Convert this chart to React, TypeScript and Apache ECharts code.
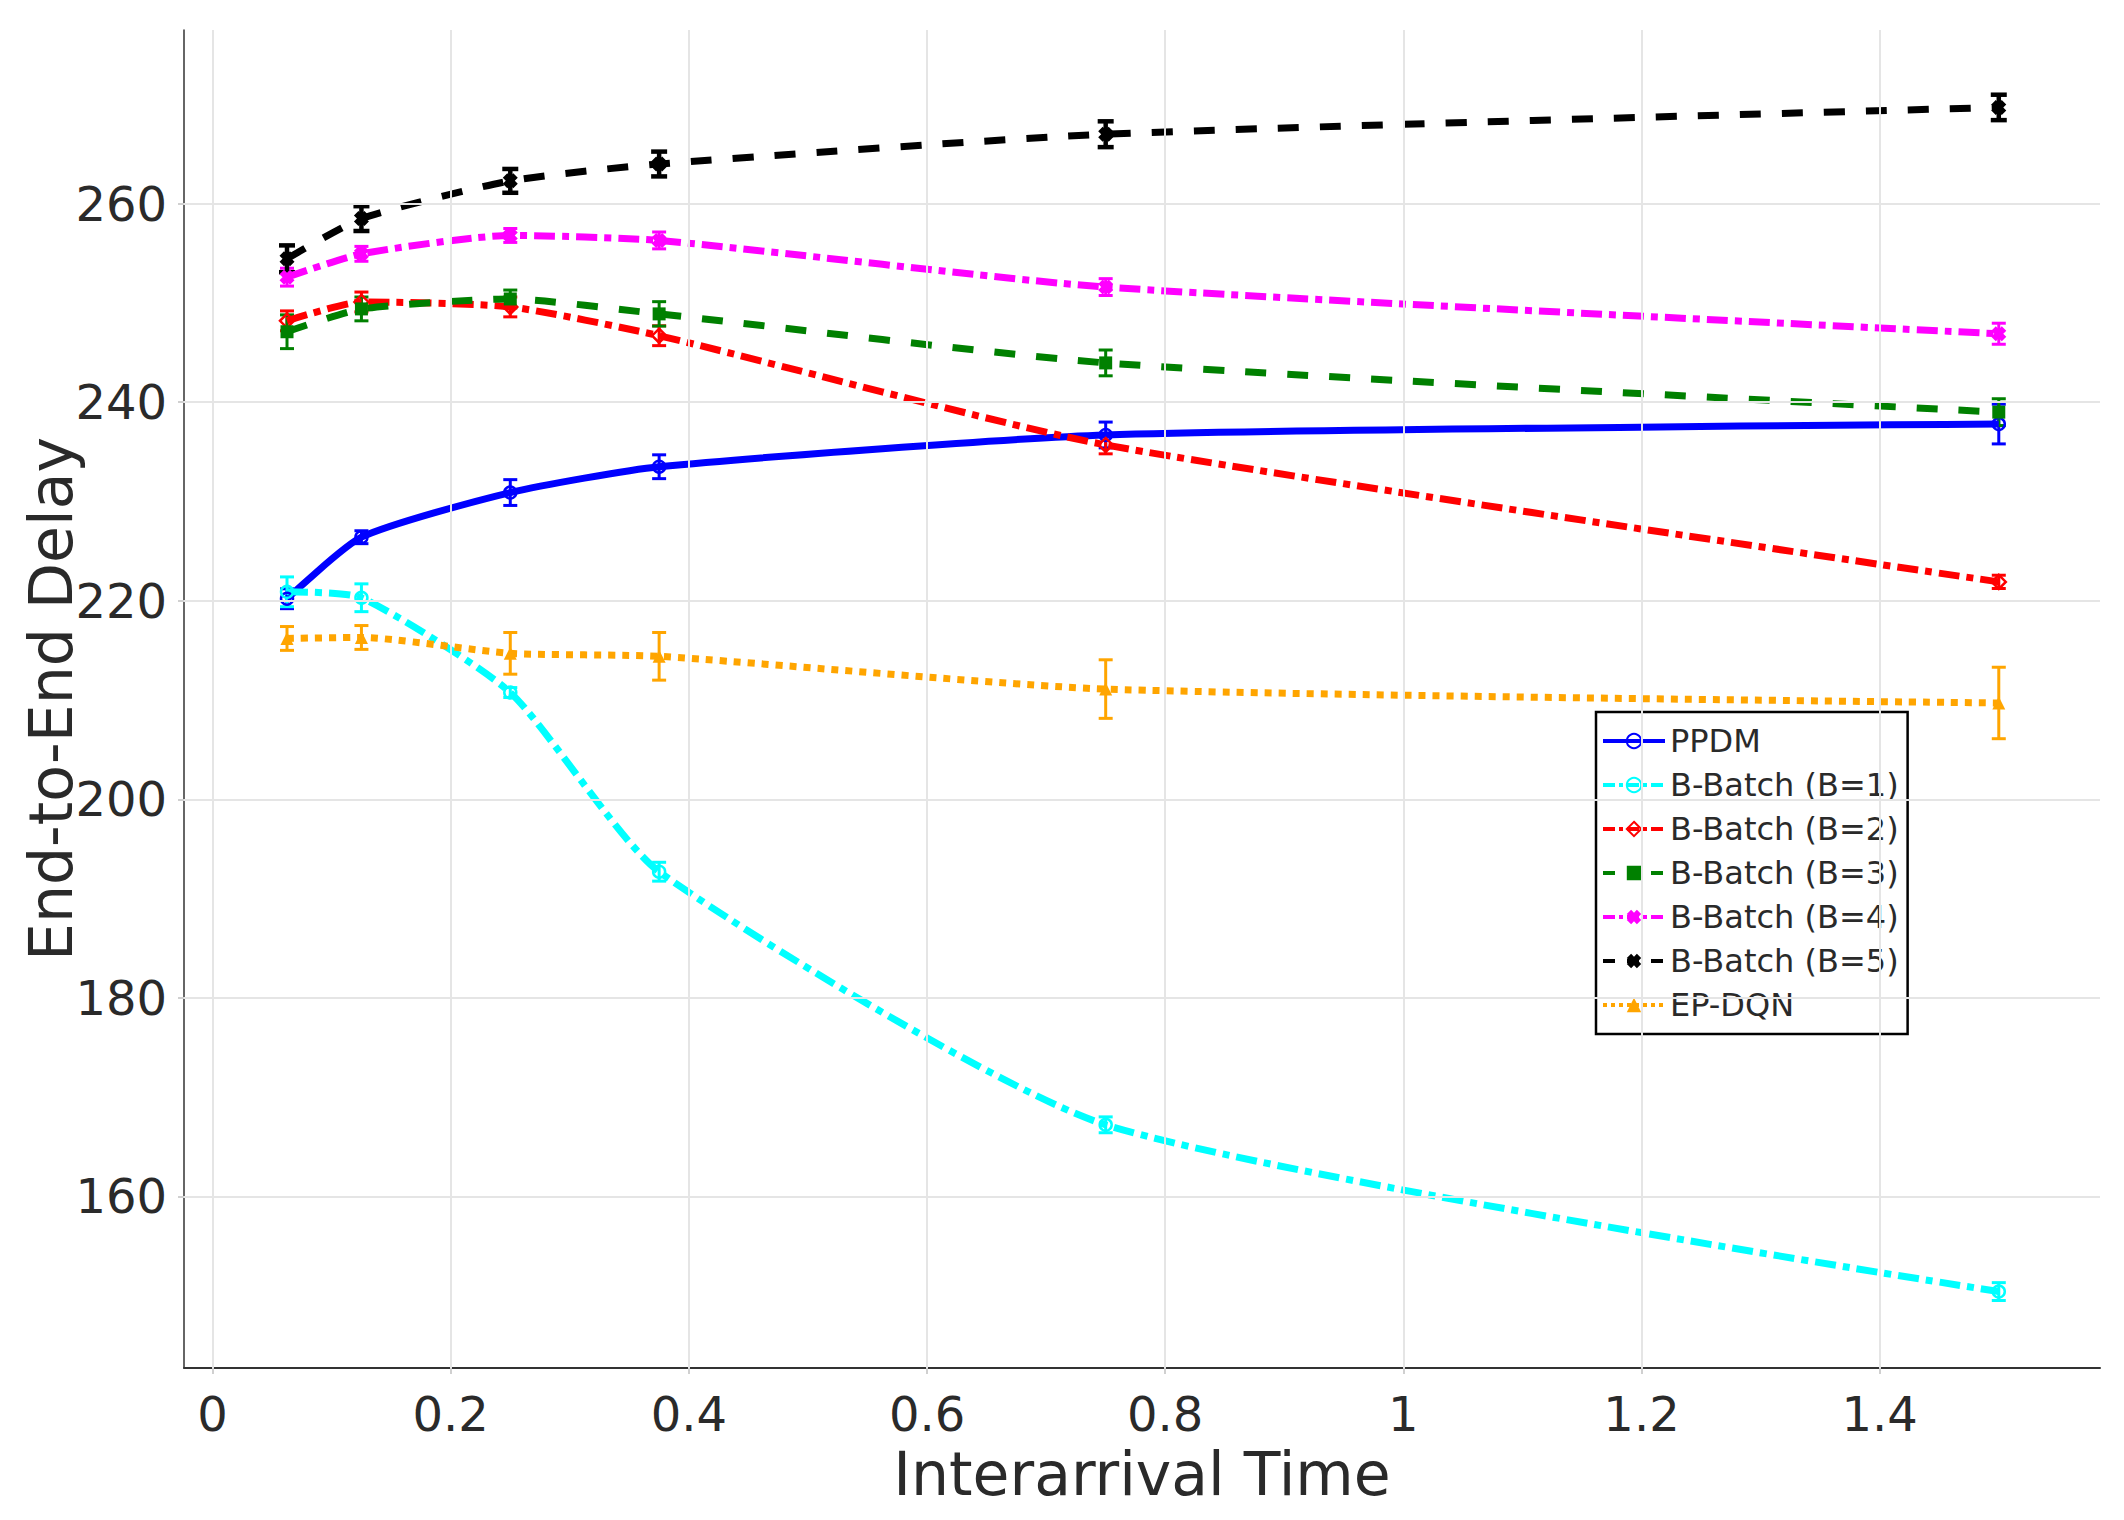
import React, { useEffect, useRef } from 'react';
import * as echarts from 'echarts';

const xValues = [0.0625, 0.125, 0.25, 0.375, 0.75, 1.5];
const xTicks = [0, 0.2, 0.4, 0.6, 0.8, 1, 1.2, 1.4];
const yTicks = [160, 180, 200, 220, 240, 260];

const seriesNames = [
  'PPDM',
  'B-Batch (B=1)',
  'B-Batch (B=2)',
  'B-Batch (B=3)',
  'B-Batch (B=4)',
  'B-Batch (B=5)',
  'EP-DQN',
];

const ppdm = [220.2, 226.4, 230.9, 233.5, 236.7, 237.8];
const ppdmErr = [1.0, 0.65, 1.3, 1.2, 1.3, 2.0];
const batch1 = [220.9, 220.3, 210.75, 192.7, 167.2, 150.4];
const batch1Err = [1.5, 1.4, 0.5, 0.95, 0.8, 0.9];
const batch2 = [248.2, 250.1, 249.6, 246.7, 235.7, 221.9];
const batch2Err = [1.0, 1.0, 1.0, 1.0, 0.9, 0.67];
const batch3 = [247.1, 249.4, 250.4, 248.9, 243.96, 239.0];
const batch3Err = [1.7, 1.2, 0.9, 1.23, 1.3, 1.35];
const batch4 = [252.6, 254.95, 256.8, 256.3, 251.6, 246.9];
const batch4Err = [0.9, 0.75, 0.7, 0.85, 0.85, 1.06];
const batch5 = [254.45, 258.5, 262.3, 264.0, 267.0, 269.7];
const batch5Err = [1.35, 1.25, 1.2, 1.25, 1.3, 1.28];
const epdqn = [216.2, 216.3, 214.7, 214.4, 211.1, 209.7];
const epdqnErr = [1.2, 1.2, 2.1, 2.4, 2.95, 3.6];

const FONT = 'DejaVu Sans';
const TEXT_COLOR = '#2a2a2a';
const X_SYMBOL = 'path://M0,3 L3,0 L5,2 L7,0 L10,3 L8,5 L10,7 L7,10 L5,8 L3,10 L0,7 L2,5 Z';

const W = 7;
const DOT = [W, W];
const DASH = [3 * W, 3 * W];
const DASHDOT = [3 * W, W, W, W];
const LW = 4;
const L_DOT = [LW, LW];
const L_DASH = [3 * LW, 3 * LW];
const L_DASHDOT = [3 * LW, LW, LW, LW];

type Spec = {
  name: string;
  vals: number[];
  errs: number[];
  color: string;
  dash: any;
  legendDash: any;
  symbol: string;
  open: boolean;
  size: number;
  errWidth: number;
  capHalf: number;
};

const specs: Spec[] = [
  { name: seriesNames[0], vals: ppdm, errs: ppdmErr, color: '#0000ff', dash: 'solid', legendDash: 'solid', symbol: 'circle', open: true, size: 12, errWidth: 3, capHalf: 7 },
  { name: seriesNames[1], vals: batch1, errs: batch1Err, color: '#00ffff', dash: DASHDOT, legendDash: L_DASHDOT, symbol: 'circle', open: true, size: 12, errWidth: 3, capHalf: 7 },
  { name: seriesNames[2], vals: batch2, errs: batch2Err, color: '#ff0000', dash: DASHDOT, legendDash: L_DASHDOT, symbol: 'diamond', open: true, size: 14, errWidth: 3, capHalf: 7 },
  { name: seriesNames[3], vals: batch3, errs: batch3Err, color: '#008000', dash: DASH, legendDash: L_DASH, symbol: 'rect', open: false, size: 13, errWidth: 3, capHalf: 7 },
  { name: seriesNames[4], vals: batch4, errs: batch4Err, color: '#ff00ff', dash: DASHDOT, legendDash: L_DASHDOT, symbol: X_SYMBOL, open: false, size: 15, errWidth: 3, capHalf: 7 },
  { name: seriesNames[5], vals: batch5, errs: batch5Err, color: '#000000', dash: DASH, legendDash: L_DASH, symbol: X_SYMBOL, open: false, size: 15, errWidth: 4.5, capHalf: 8 },
  { name: seriesNames[6], vals: epdqn, errs: epdqnErr, color: '#ffa500', dash: DOT, legendDash: L_DOT, symbol: 'triangle', open: false, size: 13, errWidth: 3, capHalf: 7 },
];

function errSeries(s: Spec) {
  const color = s.color;
  const lw = s.errWidth;
  const hw = s.capHalf;
  return {
    type: 'custom',
    name: s.name + ' error',
    silent: true,
    z: 2,
    clip: false,
    data: xValues.map((x, i) => [x, s.vals[i] - s.errs[i], s.vals[i] + s.errs[i]]),
    encode: { x: 0, y: [1, 2] },
    renderItem: (params: any, api: any) => {
      const x = api.value(0);
      const lo = api.value(1);
      const hi = api.value(2);
      const p1 = api.coord([x, lo]);
      const p2 = api.coord([x, hi]);
      const st = { stroke: color, lineWidth: lw };
      return {
        type: 'group',
        children: [
          { type: 'line', shape: { x1: p1[0], y1: p1[1], x2: p2[0], y2: p2[1] }, style: st },
          { type: 'line', shape: { x1: p1[0] - hw, y1: p1[1], x2: p1[0] + hw, y2: p1[1] }, style: st },
          { type: 'line', shape: { x1: p2[0] - hw, y1: p2[1], x2: p2[0] + hw, y2: p2[1] }, style: st },
        ],
      };
    },
  };
}

function lineSeries(s: Spec) {
  return {
    type: 'line',
    name: s.name,
    z: 2,
    data: xValues.map((x, i) => [x, s.vals[i]]),
    smooth: 0.2,
    symbol: s.symbol,
    symbolSize: s.size,
    showSymbol: true,
    lineStyle: { color: s.color, width: W, type: s.dash, cap: 'butt' },
    itemStyle: s.open
      ? { color: 'rgba(255,255,255,0)', borderColor: s.color, borderWidth: 2.5 }
      : { color: s.color, borderWidth: 0 },
    emphasis: { disabled: true },
  };
}

export default function App() {
  const ref = useRef<HTMLDivElement>(null);
  useEffect(() => {
    if (!ref.current) return;
    const chart = echarts.init(ref.current, undefined, { renderer: 'svg' });
    const series: any[] = [
      {
        type: 'line',
        name: 'gridlines',
        data: [],
        z: 0,
        silent: true,
        markLine: {
          silent: true,
          symbol: ['none', 'none'],
          label: { show: false },
          emphasis: { disabled: true },
          lineStyle: { color: '#e5e5e5', width: 2, type: 'solid' },
          data: [
            ...xTicks.map((v) => ({ xAxis: v })),
            ...yTicks.map((v) => ({ yAxis: v })),
          ],
        },
      },
    ];
    specs.forEach((s) => {
      series.push(errSeries(s));
      series.push(lineSeries(s));
    });
    chart.setOption({
      animation: false,
      backgroundColor: '#ffffff',
      textStyle: { fontFamily: FONT },
      grid: { left: 184, right: 24, top: 30, bottom: 152, containLabel: false },
      xAxis: {
        type: 'value',
        min: -0.024,
        max: 1.585,
        axisLine: { show: true, onZero: false, lineStyle: { color: '#333333', width: 2 } },
        axisTick: { show: true, length: 6, customValues: xTicks, lineStyle: { color: '#d0d0d0', width: 2 } },
        axisLabel: {
          customValues: xTicks,
          fontSize: 48,
          color: TEXT_COLOR,
          fontFamily: FONT,
          margin: 22,
          formatter: (v: number) => String(Math.round(v * 10) / 10),
        },
        splitLine: { show: false },
      },
      yAxis: {
        type: 'value',
        min: 142.7,
        max: 277.5,
        axisLine: { show: true, onZero: false, lineStyle: { color: '#333333', width: 1.5 } },
        axisTick: { show: true, length: 6, customValues: yTicks, lineStyle: { color: '#d0d0d0', width: 2 } },
        axisLabel: {
          customValues: yTicks,
          fontSize: 48,
          color: TEXT_COLOR,
          fontFamily: FONT,
          margin: 17,
        },
        splitLine: { show: false },
      },
      legend: {
        data: specs.map((s) => ({
          name: s.name,
          lineStyle: { color: s.color, width: LW, type: s.legendDash, cap: 'butt' },
        })),
        orient: 'vertical',
        left: 1596,
        top: 712,
        padding: [11, 9, 11, 5],
        itemWidth: 62,
        itemHeight: 18,
        itemGap: 8,
        backgroundColor: '#ffffff',
        borderColor: '#000000',
        borderWidth: 2.5,
        selectedMode: false,
        textStyle: { fontSize: 32, color: TEXT_COLOR, fontFamily: FONT, lineHeight: 36 },
      },
      graphic: [
        {
          type: 'text',
          x: 1142,
          y: 1474,
          style: {
            text: 'Interarrival Time',
            fontSize: 60,
            fontFamily: FONT,
            fill: TEXT_COLOR,
            align: 'center',
            verticalAlign: 'middle',
          },
        },
        {
          type: 'text',
          x: 51,
          y: 699,
          rotation: Math.PI / 2,
          style: {
            text: 'End-to-End Delay',
            fontSize: 60,
            fontFamily: FONT,
            fill: TEXT_COLOR,
            align: 'center',
            verticalAlign: 'middle',
          },
        },
      ],
      series,
    });
    return () => chart.dispose();
  }, []);
  return (
    <div
      ref={ref}
      style={{ position: 'absolute', left: 0, top: 0, width: 2124, height: 1520, background: '#fff' }}
    />
  );
}
